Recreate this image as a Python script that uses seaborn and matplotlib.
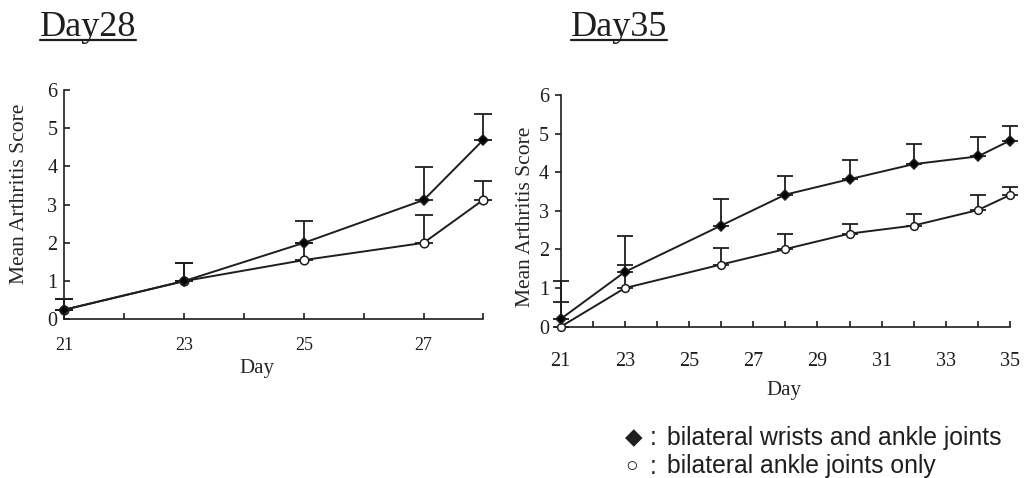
import pandas as pd
import matplotlib
matplotlib.use("Agg")
import matplotlib.pyplot as plt
from matplotlib.lines import Line2D
import seaborn as sns

# Day28 experiment
d28_days = [21, 23, 25, 27, 28]
d28_both = [0.25, 1.0, 2.0, 3.12, 4.7]
d28_both_err = [0.28, 0.47, 0.56, 0.86, 0.68]
d28_ankle = [0.25, 1.0, 1.55, 2.0, 3.13]
d28_ankle_err = [0.28, 0.47, 0.45, 0.72, 0.5]

# Day35 experiment
d35_days = [21, 23, 26, 28, 30, 32, 34, 35]
d35_both = [0.2, 1.42, 2.62, 3.42, 3.82, 4.21, 4.41, 4.82]
d35_both_err = [0.98, 0.92, 0.68, 0.49, 0.49, 0.51, 0.5, 0.39]
d35_ankle = [0.0, 1.0, 1.61, 2.01, 2.41, 2.62, 3.02, 3.41]
d35_ankle_err = [0.65, 0.61, 0.43, 0.4, 0.25, 0.31, 0.39, 0.2]

groups = ["bilateral wrists and ankle joints", "bilateral ankle joints only"]
symbols = ["\u25c6", "\u25cb"]

sns.set_style("ticks")
plt.rcParams["font.family"] = ["Liberation Serif", "DejaVu Serif"]
plt.rcParams["text.color"] = "#1e1e1e"
plt.rcParams["axes.edgecolor"] = "#1e1e1e"
plt.rcParams["xtick.color"] = "#1e1e1e"
plt.rcParams["ytick.color"] = "#1e1e1e"

W, H = 1033, 478


def make_df(days, both, both_err, ankle, ankle_err):
    rows = []
    for d, v, e in zip(days, both, both_err):
        rows.append({"day": d, "score": v, "err": e, "group": groups[0]})
    for d, v, e in zip(days, ankle, ankle_err):
        rows.append({"day": d, "score": v, "err": e, "group": groups[1]})
    return pd.DataFrame(rows)


def draw_panel(ax, df, xmax, capsize, ms_d, ms_o):
    styles = {
        groups[0]: dict(marker="D", markersize=ms_d, markerfacecolor="black"),
        groups[1]: dict(marker="o", markersize=ms_o, markerfacecolor="white"),
    }
    for g in groups[::-1]:
        sub = df[df["group"] == g]
        zeros = [0] * len(sub)
        ax.errorbar(sub["day"], sub["score"], yerr=[zeros, sub["err"]],
                    fmt="none", ecolor="#1e1e1e", elinewidth=1.3,
                    capsize=capsize, capthick=1.3, clip_on=False, zorder=2)
        sns.lineplot(data=sub, x="day", y="score", ax=ax, color="#1e1e1e",
                     linewidth=1.4, markeredgecolor="#1e1e1e", markeredgewidth=1.1,
                     errorbar=None, legend=False, clip_on=False, zorder=3,
                     **styles[g])
    ax.set_xlim(21, xmax)
    ax.set_ylim(0, 6)
    ax.set_yticks(range(0, 7))
    ticks = list(range(21, xmax + 1))
    ax.set_xticks(ticks)
    ax.set_xticklabels([str(t) if (t - 21) % 2 == 0 else "" for t in ticks])
    sns.despine(ax=ax)
    for s in ["left", "bottom"]:
        ax.spines[s].set_linewidth(1.2)
    ax.set_xlabel("Day", fontsize=15)
    ax.set_ylabel("Mean Arthritis Score", fontsize=15.5)
    ax.xaxis.label.set_va("center")
    ax.yaxis.label.set_va("center")


fig = plt.figure(figsize=(W / 100, H / 100), dpi=100)

ax1 = fig.add_axes([64.3 / W, 1 - 319.3 / H, (483.5 - 64.3) / W, (319.3 - 90) / H])
ax2 = fig.add_axes([560.7 / W, 1 - 326.7 / H, (1010 - 560.7) / W, (326.7 - 95) / H])

df28 = make_df(d28_days, d28_both, d28_both_err, d28_ankle, d28_ankle_err)
df35 = make_df(d35_days, d35_both, d35_both_err, d35_ankle, d35_ankle_err)

draw_panel(ax1, df28, 28, capsize=6.5, ms_d=5.6, ms_o=6.2)
draw_panel(ax2, df35, 35, capsize=5.5, ms_d=5.2, ms_o=5.6)

ax1.tick_params(axis="x", direction="in", length=4, width=1.2, labelsize=13, pad=13)
ax1.tick_params(axis="y", direction="in", length=4, width=1.2, labelsize=14.5, pad=5)
ax2.tick_params(axis="x", direction="in", length=4, width=1.2, labelsize=14.5, pad=18)
ax2.tick_params(axis="y", direction="out", length=4.5, width=1.2, labelsize=14.5, pad=4)

ax1.xaxis.set_label_coords((257 - 64.3) / 419.2, (319.3 - 368) / 229.3)
ax1.yaxis.set_label_coords((20 - 64.3) / 419.2, (319.3 - 194) / 229.3)
ax2.xaxis.set_label_coords((784 - 560.7) / 449.3, (326.7 - 391) / 231.7)
ax2.yaxis.set_label_coords((525 - 560.7) / 449.3, (326.7 - 217) / 231.7)

# underlined panel titles
titles = [
    fig.text(40 / W, 1 - 36 / H, "Day28", fontsize=26, ha="left", va="baseline"),
    fig.text(571 / W, 1 - 36 / H, "Day35", fontsize=26, ha="left", va="baseline"),
]
fig.canvas.draw()
renderer = fig.canvas.get_renderer()
for t in titles:
    bb = t.get_window_extent(renderer).transformed(fig.transFigure.inverted())
    y_line = 1 - 39.5 / H
    fig.add_artist(Line2D([bb.x0, bb.x1], [y_line, y_line], color="#1e1e1e",
                          linewidth=1.6, transform=fig.transFigure))

# legend drawn as text lines below the Day35 panel
legend_font = ["Liberation Sans", "DejaVu Sans"]
sym_style = [
    dict(x=634, fontsize=16.5, family=["DejaVu Sans"]),
    dict(x=632, fontsize=15, family=legend_font),
]
line_y = [438, 466.5]
for i, (sym, label) in enumerate(zip(symbols, groups)):
    yc = 1 - line_y[i] / H
    st = sym_style[i]
    fig.text(st["x"] / W, yc, sym, fontsize=st["fontsize"], family=st["family"],
             ha="center", va="center")
    fig.text(653.5 / W, yc, ":", fontsize=17.8, family=legend_font,
             ha="center", va="center")
    fig.text(667 / W, yc, label, fontsize=17.8, family=legend_font,
             ha="left", va="center")

fig.savefig("out.png", dpi=100)
